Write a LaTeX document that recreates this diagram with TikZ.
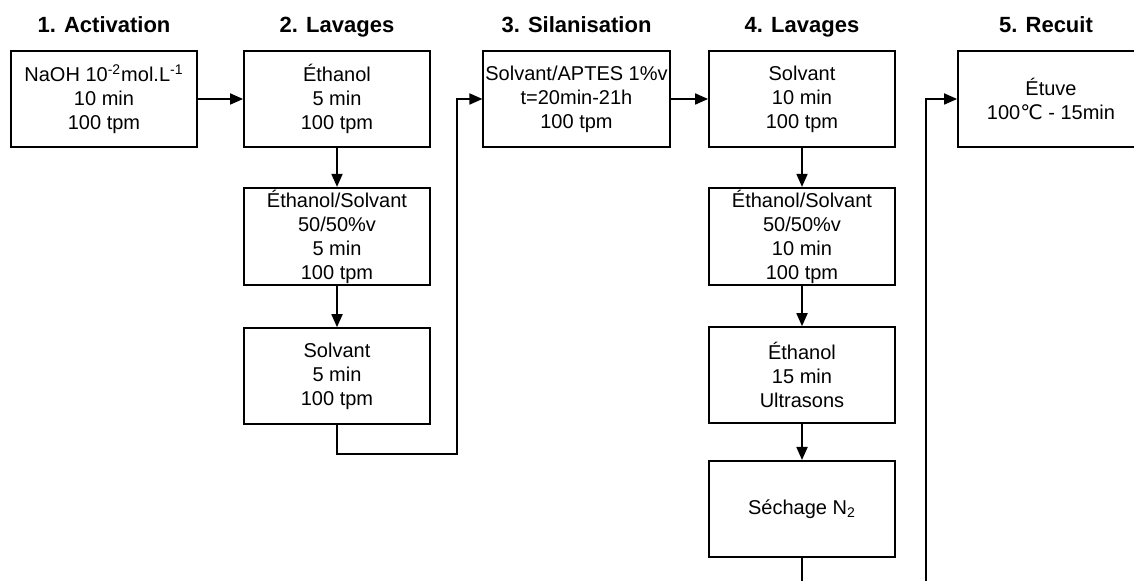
\documentclass[tikz,border=0pt]{standalone}
\usepackage{fontspec}
\setmainfont{Liberation Sans}
\newfontfamily\symfont{DejaVu Sans}
\usepackage{tikz}
\usetikzlibrary{arrows.meta,positioning}
\tikzset{
  stepcard/.style={draw=black,fill=white,line width=0.9pt,
                   minimum width=93pt,minimum height=48pt,
                   align=center,inner sep=1pt,
                   font=\fontsize{10}{12}\selectfont},
  headlbl/.style={anchor=base,font=\fontsize{11}{13}\selectfont\bfseries},
  flowarr/.style={-{Triangle[length=6.5pt,width=5.5pt]},line width=0.9pt,
                  draw=black}
}

\begin{document}
\begin{tikzpicture}[x=0.5pt,y=-0.5pt,node distance=19.5pt]
    \clip (0,0) rectangle (1134,581);
    % step titles
    \node[headlbl] (ttlact) at (104,33) {1. Activation};
    \node[headlbl] (ttllav) at (337,33) {2. Lavages};
    \node[headlbl] (ttlsil) at (576.5,33) {3. Silanisation};
    \node[headlbl] (ttlrin) at (802,33) {4. Lavages};
    \node[headlbl] (ttlrec) at (1046,33) {5. Recuit};
    % 1. activation
    \node[stepcard] (act) at (104,99)
      {NaOH 10\textsuperscript{-2}mol.L\textsuperscript{-1}\\10 min\\100 tpm};
    % 2. first washes
    \node[stepcard] (lav1) at (337,99) {Éthanol\\5 min\\100 tpm};
    \node[stepcard,below=of lav1] (lav2)
      {Éthanol/Solvant\\50/50\%v\\5 min\\100 tpm};
    \node[stepcard,below=20.5pt of lav2] (lav3) {Solvant\\5 min\\100 tpm};
    % 3. silanisation
    \node[stepcard] (sil) at (576.5,99)
      {Solvant/APTES 1\%v\\t=20min-21h\\100 tpm};
    % 4. second washes
    \node[stepcard] (sol4) at (802,99) {Solvant\\10 min\\100 tpm};
    \node[stepcard,below=of sol4] (mix4)
      {Éthanol/Solvant\\50/50\%v\\10 min\\100 tpm};
    \node[stepcard,below=20pt of mix4] (eth4) {Éthanol\\15 min\\Ultrasons};
    \node[stepcard,below=18pt of eth4] (dry4) {Séchage N\textsubscript{2}};
    % 5. annealing
    \node[stepcard] (etuve) at (1051,99)
      {Étuve\\100{\symfont ℃} - 15min};
    % bends of the long links
    \coordinate (bend1) at (457,454);
    \coordinate (bend2) at (926,620);
    \draw[flowarr] (act) -- (lav1);
    \draw[flowarr] (lav1) -- (lav2);
    \draw[flowarr] (lav2) -- (lav3);
    \draw[flowarr] (lav3.south) |- (bend1) |- (sil.west);
    \draw[flowarr] (sil) -- (sol4);
    \draw[flowarr] (sol4) -- (mix4);
    \draw[flowarr] (mix4) -- (eth4);
    \draw[flowarr] (eth4) -- (dry4);
    \draw[flowarr] (dry4.south) |- (bend2) |- (etuve.west);
  \end{tikzpicture}
\end{document}
